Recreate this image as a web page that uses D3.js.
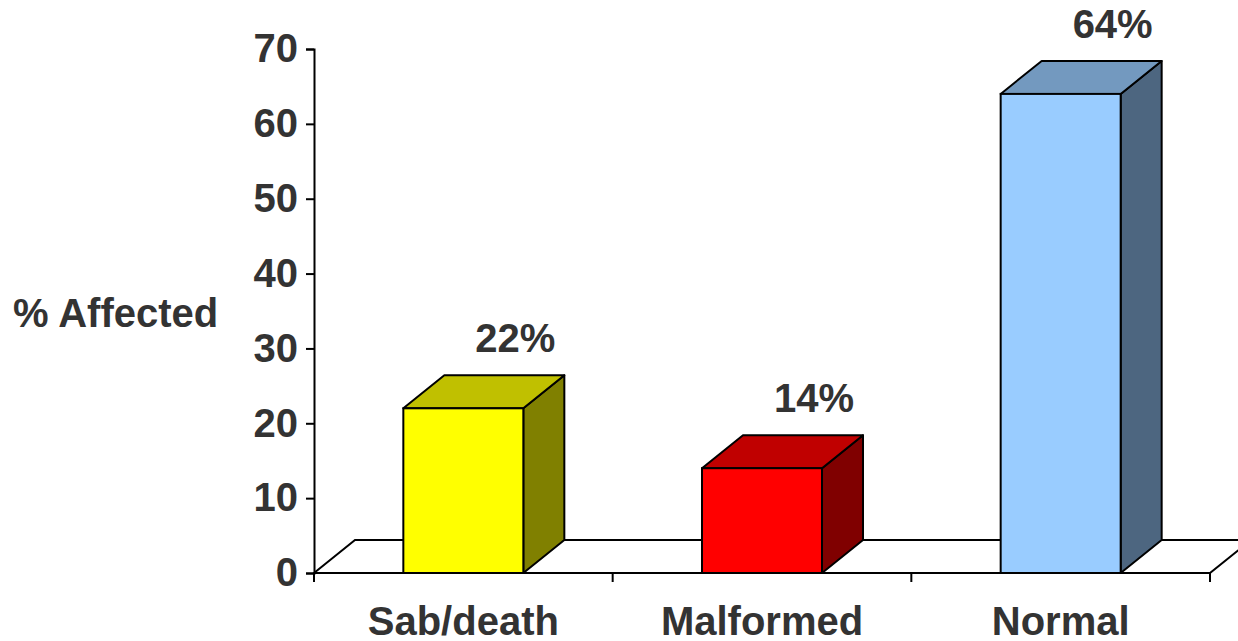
<!DOCTYPE html>
<html>
<head>
<meta charset="utf-8">
<script src="https://cdn.jsdelivr.net/npm/d3@7"></script>
<style>
  body { margin: 0; background: #fff; }
  text { font-family: "Liberation Sans", Arial, sans-serif; font-weight: bold; fill: #333; }
</style>
</head>
<body>
<div id="chart"></div>
<script>
// data
const categories = ["Sab/death", "Malformed", "Normal"];
const values = [22, 14, 64];
const valueLabels = ["22%", "14%", "64%"];
const yTicks = [0, 10, 20, 30, 40, 50, 60, 70];

const frontColors = ["#ffff00", "#ff0000", "#99ccff"];
const topColors = ["#c0c000", "#c00000", "#7399bf"];
const sideColors = ["#808000", "#800000", "#4d6680"];

const W = 1238, H = 641;
const depth = {dx: 41, dy: -33};
const barW = 120;

const svg = d3.select("#chart")
  .append("svg")
    .attr("width", W)
    .attr("height", H);

const x = d3.scaleBand()
  .domain(categories)
  .range([314, 1210]);

const y = d3.scaleLinear()
  .domain([0, 70])
  .range([573, 49]);

// floor of the 3d plot
const y0 = y(0);
svg.append("polygon")
  .attr("points", [
    [x.range()[0], y0],
    [x.range()[0] + depth.dx, y0 + depth.dy],
    [x.range()[1] + depth.dx, y0 + depth.dy],
    [x.range()[1], y0]
  ].map(p => p.join(",")).join(" "))
  .attr("fill", "#fff")
  .attr("stroke", "#000")
  .attr("stroke-width", 2);

// y axis
const yAxis = svg.append("g")
  .attr("transform", `translate(${x.range()[0]},0)`)
  .call(d3.axisLeft(y).tickValues(yTicks).tickSize(8).tickPadding(8).tickFormat(d3.format("d")));
yAxis.select(".domain").attr("stroke", "#000").attr("stroke-width", 2);
yAxis.selectAll(".tick line").attr("stroke", "#000").attr("stroke-width", 2);
yAxis.selectAll(".tick text")
  .attr("fill", "#333")
  .style("font-size", "40px")
  .style("font-family", "'Liberation Sans', Arial, sans-serif")
  .style("font-weight", "bold");

// x axis (category ticks at band edges)
const xg = svg.append("g");
xg.append("line")
  .attr("x1", x.range()[0]).attr("x2", x.range()[1])
  .attr("y1", y0).attr("y2", y0)
  .attr("stroke", "#000").attr("stroke-width", 2);
const edges = categories.map(c => x(c)).concat([x.range()[1]]);
xg.selectAll(".xt")
  .data(edges)
  .join("line")
    .attr("x1", d => d).attr("x2", d => d)
    .attr("y1", y0).attr("y2", y0 + 9)
    .attr("stroke", "#000").attr("stroke-width", 2);
xg.selectAll(".xl")
  .data(categories)
  .join("text")
    .attr("x", d => x(d) + x.bandwidth() / 2)
    .attr("y", 635)
    .attr("text-anchor", "middle")
    .style("font-size", "40px")
    .text(d => d);

// bars
const bars = svg.selectAll(".bar")
  .data(categories.map((c, i) => ({c, v: values[i], i})))
  .join("g");

bars.each(function(d) {
  const g = d3.select(this);
  const x0 = x(d.c) + (x.bandwidth() - barW) / 2, x1 = x0 + barW;
  const yt = y(d.v);
  const pts = a => a.map(p => p.join(",")).join(" ");
  // side
  g.append("polygon")
    .attr("points", pts([[x1, y0], [x1 + depth.dx, y0 + depth.dy], [x1 + depth.dx, yt + depth.dy], [x1, yt]]))
    .attr("fill", sideColors[d.i]).attr("stroke", "#000").attr("stroke-width", 2).attr("stroke-linejoin", "round");
  // top
  g.append("polygon")
    .attr("points", pts([[x0, yt], [x0 + depth.dx, yt + depth.dy], [x1 + depth.dx, yt + depth.dy], [x1, yt]]))
    .attr("fill", topColors[d.i]).attr("stroke", "#000").attr("stroke-width", 2).attr("stroke-linejoin", "round");
  // front
  g.append("rect")
    .attr("x", x0).attr("y", yt)
    .attr("width", barW).attr("height", y0 - yt)
    .attr("fill", frontColors[d.i]).attr("stroke", "#000").attr("stroke-width", 2);
  // value label
  g.append("text")
    .attr("x", x0 + barW / 2 + 52)
    .attr("y", yt - 56)
    .attr("text-anchor", "middle")
    .style("font-size", "40px")
    .text(valueLabels[d.i]);
});

// y axis title
svg.append("text")
  .attr("x", 13)
  .attr("y", 327)
  .style("font-size", "40px")
  .text("% Affected");
</script>
</body>
</html>
